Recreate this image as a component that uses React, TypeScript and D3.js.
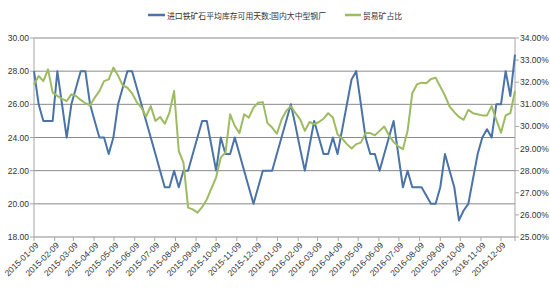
import React from "react";
import * as d3 from "d3";

const startDate = "2015-01-09";
const blueName = "进口铁矿石平均库存可用天数:国内大中型钢厂";
const greenName = "贸易矿占比";

const blueValues = [
  28, 26, 25, 25, 25, 28, 26, 24, 26, 27,
  28, 28, 26, 25, 24, 24, 23, 24, 26, 27,
  28, 28, 27, 26, 25, 24, 23, 22, 21, 21,
  22, 21, 22, 22, 23, 24, 25, 25, 23.5, 22,
  24, 23, 23, 24, 23, 22, 21, 20, 21, 22,
  22, 22, 23, 24, 25, 26, 24.7, 23.3, 22, 23.5,
  25, 24, 23, 23, 24, 23, 24.5, 26, 27.5, 28,
  26, 24, 23, 23, 22, 23, 24, 25, 23, 21,
  22, 21, 21, 21, 20.5, 20, 20, 21, 23, 22,
  21, 19, 19.6, 20, 21.5, 23, 24, 24.5, 24, 26,
  26, 28, 26.5, 29,
];

const greenValues = [
  31.9, 32.28, 32.05, 32.58, 31.53, 31.38, 31.25, 31.15, 31.45, 31.38,
  31.2, 31.05, 30.96, 31.3, 31.6, 32.05, 32.13, 32.66, 32.3, 31.86,
  31.75, 31.5, 31.1, 30.85, 30.45, 30.92, 30.25, 30.43, 30.12, 30.62,
  31.6, 28.9, 28.36, 26.33, 26.25, 26.1, 26.35, 26.7, 27.2, 27.7,
  28.6, 28.81, 30.55, 30.02, 29.7, 30.55, 30.4, 30.85, 31.07, 31.1,
  30.15, 29.95, 29.67, 30.3, 30.7, 30.92, 30.6, 30.32, 29.8, 30.2,
  30.1, 30.2, 30.35, 30.6, 30.4, 29.65, 29.45, 29.2, 29.0, 29.2,
  29.27, 29.7, 29.7, 29.6, 29.8, 30.0, 29.6, 29.3, 29.1, 28.97,
  29.8, 31.5, 31.9, 31.98, 31.95, 32.15, 32.2, 31.8, 31.4, 30.9,
  30.65, 30.43, 30.3, 30.75, 30.6, 30.55, 30.5, 30.5, 30.92, 30.3,
  29.72, 30.5, 30.6, 31.6,
];

const leftTicks = [18, 20, 22, 24, 26, 28, 30];
const rightTicks = [25, 26, 27, 28, 29, 30, 31, 32, 33, 34];
const monthLabels = [
  "2015-01-09", "2015-02-09", "2015-03-09", "2015-04-09", "2015-05-09", "2015-06-09",
  "2015-07-09", "2015-08-09", "2015-09-09", "2015-10-09", "2015-11-09", "2015-12-09",
  "2016-01-09", "2016-02-09", "2016-03-09", "2016-04-09", "2016-05-09", "2016-06-09",
  "2016-07-09", "2016-08-09", "2016-09-09", "2016-10-09", "2016-11-09", "2016-12-09",
];

const parse = d3.timeParse("%Y-%m-%d");

export default function App() {
  const left = 34, right = 515, top = 38, bottom = 237;
  const start = parse(startDate) as Date;
  const dates = blueValues.map((_, i) => d3.timeWeek.offset(start, i));
  const x = d3.scaleTime().domain([dates[0], dates[dates.length - 1]]).range([left, right]);
  const yL = d3.scaleLinear().domain([18, 30]).range([bottom, top]);
  const yR = d3.scaleLinear().domain([25, 34]).range([bottom, top]);

  const blueLine = d3.line<number>().x((_, i) => x(dates[i])).y((d) => yL(d));
  const greenLine = d3.line<number>().x((_, i) => x(dates[i])).y((d) => yR(d));

  const font = "'Liberation Sans', Arial, sans-serif";
  const cjk = "'Noto Sans CJK SC', sans-serif";
  const textColor = "#333";

  return (
    <svg width={550} height={300} style={{ position: "absolute", left: 0, top: 0, background: "#fff" }}>
      {/* legend */}
      <line x1={148} x2={165} y1={15} y2={15} stroke="#4a73a7" strokeWidth={2.5} />
      <text x={167} y={18.5} fontFamily={cjk} fontSize={8.5} fill={textColor} textLength={159} lengthAdjust="spacingAndGlyphs">{blueName}</text>
      <line x1={345} x2={361} y1={15} y2={15} stroke="#9dbb61" strokeWidth={2.5} />
      <text x={363} y={18.5} fontFamily={cjk} fontSize={8.5} fill={textColor} textLength={39} lengthAdjust="spacingAndGlyphs">{greenName}</text>

      {/* gridlines */}
      {leftTicks.map((t) => (
        <line key={"g" + t} x1={left} x2={right} y1={yL(t)} y2={yL(t)} stroke="#8a8a8a" strokeWidth={1} />
      ))}
      {/* left axis */}
      <line x1={left} x2={left} y1={top} y2={bottom} stroke="#a6a6a6" strokeWidth={1} />
      {leftTicks.map((t) => (
        <g key={"l" + t}>
          <line x1={left - 4} x2={left} y1={yL(t)} y2={yL(t)} stroke="#a6a6a6" />
          <text x={29} y={yL(t) + 3} textAnchor="end" fontFamily={font} fontSize={8.5} fill={textColor}>{t.toFixed(2)}</text>
        </g>
      ))}
      {/* right axis */}
      <line x1={right} x2={right} y1={top} y2={bottom} stroke="#a6a6a6" strokeWidth={1} />
      {rightTicks.map((t) => (
        <g key={"r" + t}>
          <line x1={right} x2={right + 4} y1={yR(t)} y2={yR(t)} stroke="#a6a6a6" />
          <text x={520} y={yR(t) + 3} textAnchor="start" fontFamily={font} fontSize={8.5} fill={textColor}>{t.toFixed(2) + "%"}</text>
        </g>
      ))}
      {/* x axis ticks and labels */}
      {monthLabels.map((m) => {
        const tx = x(parse(m) as Date);
        return (
          <g key={m}>
            <line x1={tx} x2={tx} y1={bottom} y2={bottom + 4} stroke="#a6a6a6" />
            <text transform={`translate(${tx + 5},${bottom + 9}) rotate(-45)`} textAnchor="end" fontFamily={font} fontSize={8.5} fill={textColor}>{m}</text>
          </g>
        );
      })}
      <line x1={right} x2={right} y1={bottom} y2={bottom + 4} stroke="#a6a6a6" />

      {/* series */}
      <path d={blueLine(blueValues) || ""} fill="none" stroke="#4a73a7" strokeWidth={2} strokeLinejoin="round" />
      <path d={greenLine(greenValues) || ""} fill="none" stroke="#9dbb61" strokeWidth={2} strokeLinejoin="round" />
    </svg>
  );
}
